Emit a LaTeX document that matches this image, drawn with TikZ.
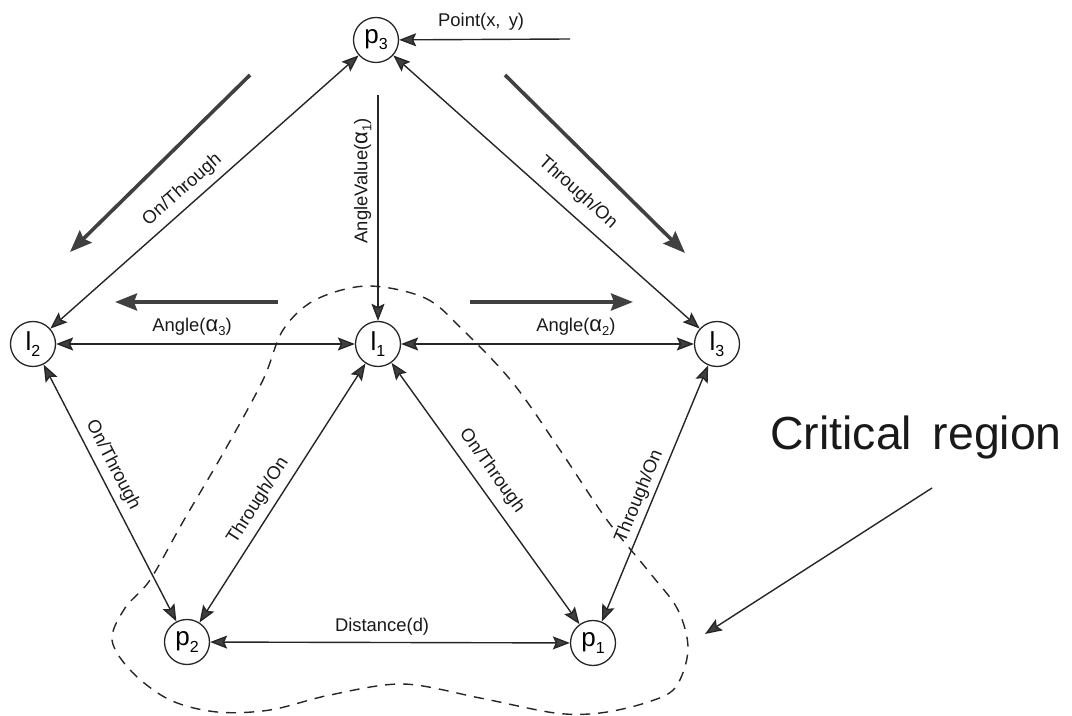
\documentclass[tikz,border=0pt]{standalone}
\usepackage{fontspec}
\setmainfont{Liberation Sans}
\usetikzlibrary{arrows.meta}
\newcommand\sbs[1]{\raisebox{-0.45ex}{\fontsize{8}{8}\selectfont #1}}
\newcommand\lsb[1]{\raisebox{-0.4ex}{\fontsize{6.5}{7}\selectfont #1}}
\newcommand\alp{{\fontsize{11}{11}\selectfont α}}
\begin{document}
\begin{tikzpicture}[x=0.5pt,y=-0.5pt,
  gnode/.style={circle,draw=black!85,line width=0.65pt,minimum size=22.5pt,inner sep=0pt,
    font=\fontsize{13}{14}\selectfont},
  conn/.style={draw=black!85,line width=0.7pt},
  onehead/.style={conn,-{Stealth[length=8.5pt,width=6.5pt,inset=1.5pt,fill=black!75]}},
  twohead/.style={conn,{Stealth[length=8.5pt,width=6.5pt,inset=1.5pt,fill=black!75]}-{Stealth[length=8.5pt,width=6.5pt,inset=1.5pt,fill=black!75]}},
  bigarrow/.style={draw=black!75,line width=1.8pt,-{Stealth[length=11pt,width=8.5pt,inset=1.5pt]}},
  lab/.style={font=\fontsize{9.2}{10}\selectfont,inner sep=1pt,text=black!90},
  region/.style={draw=black!85,line width=0.7pt,dash pattern=on 5pt off 4pt}
]
\useasboundingbox (0,0) rectangle (1072,716);

% nodes
\node[gnode] (p3) at (376,40) {p\sbs{3}};
\node[gnode] (l2) at (33,344) {l\sbs{2}};
\node[gnode] (l1) at (378,344) {l\sbs{1}};
\node[gnode] (l3) at (717,344) {l\sbs{3}};
\node[gnode] (p2) at (187,642) {p\sbs{2}};
\node[gnode] (p1) at (593,643) {p\sbs{1}};

\coordinate (ptsrc) at (570,39);
\coordinate (angsrc) at (378,95);

% connectors
\draw[onehead] (ptsrc) -- node[lab,above=3pt,pos=0.52] {Point(x,\, y)} (p3);
\draw[onehead] (angsrc) -- node[lab,rotate=90,above=2pt,pos=0.38] {AngleValue(\alp\lsb{1})} (l1);
\draw[twohead] (l2) -- node[lab,sloped,above=2.5pt,pos=0.463] {On/Through} (p3);
\draw[twohead] (p3) -- node[lab,sloped,above=4.5pt,pos=0.558] {Through/On} (l3);
\draw[twohead] (l2) -- node[lab,above=3pt,pos=0.455] {Angle(\alp\lsb{3})} (l1);
\draw[twohead] (l1) -- node[lab,above=3pt,pos=0.597] {Angle(\alp\lsb{2})} (l3);
\draw[twohead] (l2) -- node[lab,sloped,above=2pt,pos=0.419] {On/Through} (p2);
\draw[twohead] (p2) -- node[lab,sloped,above=2.5pt,pos=0.436] {Through/On} (l1);
\draw[twohead] (l1) -- node[lab,sloped,above=3.5pt,pos=0.454] {On/Through} (p1);
\draw[twohead] (p1) -- node[lab,sloped,above=1pt,pos=0.468] {Through/On} (l3);
\draw[twohead] (p2) -- node[lab,above=2pt,pos=0.478] {Distance(d)} (p1);

% thick direction arrows
\coordinate (ta1) at (250,75);  \coordinate (tb1) at (70,252);
\coordinate (ta2) at (505,75);  \coordinate (tb2) at (685,253);
\coordinate (ta3) at (278,302); \coordinate (tb3) at (115,302);
\coordinate (ta4) at (470,302); \coordinate (tb4) at (633,302);
\draw[bigarrow] (ta1) -- (tb1);
\draw[bigarrow] (ta2) -- (tb2);
\draw[bigarrow] (ta3) -- (tb3);
\draw[bigarrow] (ta4) -- (tb4);

% critical region
\draw[region] plot[smooth cycle, tension=0.55] coordinates {
  (367,286) (425,298) (463,330) (513,383) (560,450) (607,520) (650,573)
  (678,610) (688,650) (675,688) (645,703) (600,713) (555,713) (480,698)
  (403,684) (330,695) (270,710) (217,712) (170,700) (132,672) (112,640)
  (125,608) (150,580) (184,520) (225,450) (263,380) (283,330) (315,300)};

\node[font=\fontsize{23.2}{26}\selectfont,anchor=base west,inner sep=0pt,text=black!90] (crit) at (770,450) {Critical\, region};
\coordinate (critsrc) at (932,488);
\coordinate (crittip) at (705,634);
\draw[onehead] (critsrc) -- (crittip);
\end{tikzpicture}
\end{document}
